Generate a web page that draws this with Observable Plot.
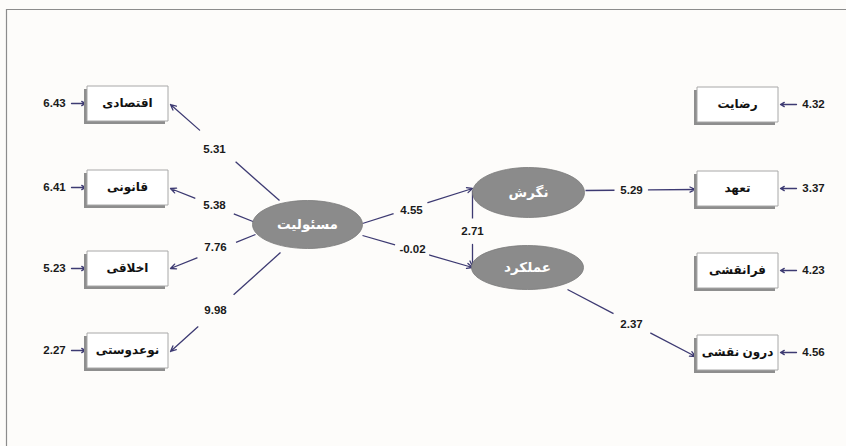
<!DOCTYPE html>
<html>
<head>
<meta charset="utf-8">
<script src="https://cdn.jsdelivr.net/npm/d3@7"></script>
<script src="https://cdn.jsdelivr.net/npm/@observablehq/plot@0.6"></script>
<style>
  html, body { margin: 0; padding: 0; background: #fdfcfa; }
  #chart svg { display: block; }
</style>
</head>
<body>
<div id="chart"></div>
<script>
// ---------- data ----------
const latentNames = ["مسئولیت", "نگرش", "عملکرد"];
const leftIndicators = ["اقتصادی", "قانونی", "اخلاقی", "نوعدوستی"];
const leftLoadings = [5.31, 5.38, 7.76, 9.98];
const leftErrors = [6.43, 6.41, 5.23, 2.27];
const rightIndicators = ["رضایت", "تعهد", "فرانقشی", "درون نقشی"];
const rightErrors = [4.32, 3.37, 4.23, 4.56];
const pathLabels = ["مسئولیت→نگرش", "مسئولیت→عملکرد", "نگرش→عملکرد", "نگرش→تعهد", "عملکرد→درون نقشی"];
const pathValues = [4.55, -0.02, 2.71, 5.29, 2.37];

// ---------- layout (diagram coordinates) ----------
const latentPos = [[307, 224, 55, 24], [528, 192, 56, 25], [527, 267, 56, 22]];
const leftBoxPos = [[127, 103], [127, 187], [127, 268], [127, 350]];
const rightBoxPos = [[737, 104], [737, 188], [737, 270], [737, 352]];
// [x1, y1, x2, y2, labelX, labelY, halfGap]
const leftEdgePos = [
  [279, 200, 170, 104, 214, 149, 24],
  [255, 222, 170, 188, 214, 205, 21],
  [255, 234, 170, 268, 215, 247, 21],
  [280, 252, 170, 351, 215, 310, 24]
];
const pathEdgePos = [
  [362, 223, 472, 188, 411, 210, 18],
  [362, 235, 472, 267, 412, 249, 18],
  [472, 190, 472, 266, 472, 231, 13],
  [585, 190, 695, 189, 631, 190, 17],
  [567, 289, 695, 356, 631, 324, 21]
];

// ---------- build tables ----------
function splitEdge([x1, y1, x2, y2, lx, ly, g], value) {
  const dx = x2 - x1, dy = y2 - y1, len = Math.hypot(dx, dy);
  const ux = dx / len, uy = dy / len;
  const t = (lx - x1) * ux + (ly - y1) * uy;
  return {
    a: {x1, y1, x2: x1 + ux * (t - g), y2: y1 + uy * (t - g)},
    b: {x1: x1 + ux * (t + g), y1: y1 + uy * (t + g), x2, y2},
    label: {x: lx, y: ly, text: value.toFixed(2)}
  };
}
const edges = [
  ...leftEdgePos.map((p, i) => splitEdge(p, leftLoadings[i])),
  ...pathEdgePos.map((p, i) => splitEdge(p, pathValues[i]))
];
const boxes = [
  ...leftIndicators.map((name, i) => ({name, x: leftBoxPos[i][0], y: leftBoxPos[i][1]})),
  ...rightIndicators.map((name, i) => ({name, x: rightBoxPos[i][0], y: rightBoxPos[i][1]}))
];
const errors = [
  ...leftErrors.map((v, i) => ({text: v.toFixed(2), tx: 54, y: leftBoxPos[i][1], x1: 71, x2: 85})),
  ...rightErrors.map((v, i) => ({text: v.toFixed(2), tx: 813, y: rightBoxPos[i][1], x1: 796, x2: 780}))
];
const latents = latentNames.map((name, i) => ({name, x: latentPos[i][0], y: latentPos[i][1], rx: latentPos[i][2], ry: latentPos[i][3]}));

// ---------- custom symbols ----------
function ellipseSymbol(rx, ry) {
  const k = 0.5523;
  return {draw(ctx) {
    ctx.moveTo(rx, 0);
    ctx.bezierCurveTo(rx, ry * k, rx * k, ry, 0, ry);
    ctx.bezierCurveTo(-rx * k, ry, -rx, ry * k, -rx, 0);
    ctx.bezierCurveTo(-rx, -ry * k, -rx * k, -ry, 0, -ry);
    ctx.bezierCurveTo(rx * k, -ry, rx, -ry * k, rx, 0);
    ctx.closePath();
  }};
}
function rectSymbol(w, h) {
  return {draw(ctx) { ctx.rect(-w / 2, -h / 2, w, h); }};
}
const boxSym = rectSymbol(81, 35);

const edgeColor = "#3d3a72";
const font = "'Liberation Sans', Arial, 'DejaVu Sans', sans-serif";

const plot = Plot.plot({
  width: 846,
  height: 446,
  margin: 0,
  x: {domain: [0, 846], range: [0, 846], axis: null},
  y: {domain: [0, 446], range: [0, 446], axis: null},
  style: {background: "#fdfcfa"},
  marks: [
    // frame
    Plot.ruleY([9], {x1: 6, x2: 846, stroke: "#8c8c8c", strokeWidth: 1.2}),
    Plot.ruleX([6], {y1: 9, y2: 446, stroke: "#8c8c8c", strokeWidth: 1.2}),
    // edges
    Plot.link(edges.map(d => d.a), {x1: "x1", y1: "y1", x2: "x2", y2: "y2", stroke: edgeColor, strokeWidth: 1.3}),
    Plot.arrow(edges.map(d => d.b), {x1: "x1", y1: "y1", x2: "x2", y2: "y2", stroke: edgeColor, strokeWidth: 1.3, headLength: 7, headAngle: 50}),
    Plot.text(edges.map(d => d.label), {x: "x", y: "y", text: "text", fill: "#1a1a1a", fontSize: 11.5, fontWeight: "bold", fontFamily: font}),
    // error arrows
    Plot.arrow(errors, {x1: "x1", x2: "x2", y1: "y", y2: "y", stroke: edgeColor, strokeWidth: 1.3, headLength: 5, headAngle: 60}),
    Plot.text(errors, {x: "tx", y: "y", text: "text", fill: "#1a1a1a", fontSize: 11.5, fontWeight: "bold", fontFamily: font}),
    // boxes
    Plot.dot(boxes, {x: "x", y: "y", symbol: boxSym, fill: "#8e8e8e", stroke: "none", dx: -3, dy: 3}),
    Plot.dot(boxes, {x: "x", y: "y", symbol: boxSym, fill: "#ffffff", stroke: "#a8a8a8", strokeWidth: 1}),
    Plot.text(boxes, {x: "x", y: "y", text: "name", fill: "#111", fontSize: 12, fontWeight: "bold", fontFamily: font}),
    // latent ellipses
    ...latents.map(d => Plot.dot([d], {x: "x", y: "y", symbol: ellipseSymbol(d.rx, d.ry), fill: "#8b8b8b", stroke: "#7a7a7a", strokeWidth: 0.8})),
    Plot.text(latents, {x: "x", y: "y", text: "name", fill: "#ffffff", fontSize: 13.5, fontWeight: "bold", fontFamily: font})
  ]
});
document.getElementById("chart").appendChild(plot);
</script>
</body>
</html>
